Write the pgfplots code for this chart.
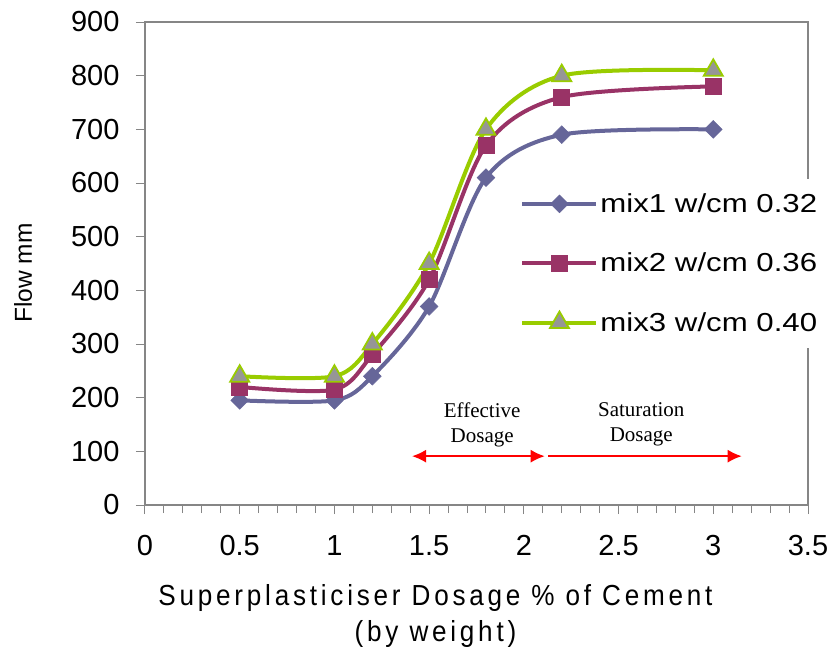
\documentclass[border=0pt]{standalone}
\usepackage{pgfplots}
\pgfplotsset{compat=1.18}
\usepackage{fontspec}
\setmainfont{Liberation Sans}
\newfontfamily\timesfont{Liberation Serif}
\usetikzlibrary{arrows.meta}
\definecolor{c1}{HTML}{666699}
\definecolor{c2}{HTML}{993366}
\definecolor{c3}{HTML}{99CC00}
\definecolor{tri}{HTML}{969696}
\definecolor{axgray}{HTML}{868686}
\begin{document}
\begin{tikzpicture}
\begin{axis}[
  scale only axis, width=663pt, height=483pt,
  xmin=0, xmax=3.5, ymin=0, ymax=900,
  xtick={0,0.5,1,1.5,2,2.5,3,3.5}, ytick={0,100,...,900},
  minor x tick num=4,
  tick align=outside, xtick pos=bottom, ytick pos=left,
  major tick length=9pt, minor tick length=8pt,
  axis line style={axgray, line width=1.6pt},
  every tick/.style={axgray, line width=1pt},
  tick label style={font=\fontsize{29}{32}\selectfont},
  /pgf/number format/assume math mode=true,
  xticklabel style={yshift=-18pt},
  yticklabel style={xshift=-13pt},
  xlabel={Superplasticiser Dosage \% of Cement\\(by weight)},
  xlabel style={align=center, font=\fontsize{29}{36}\selectfont\addfontfeatures{FakeStretch=0.9,LetterSpace=13}, yshift=-22pt, xshift=-41pt},
  ylabel={Flow mm},
  ylabel style={at={(axis description cs:-0.184,0.48)}, anchor=center, rotate=0,
    font=\fontsize{24.5}{28}\selectfont},
  legend style={at={(rel axis cs:0.56,0.676)}, anchor=north west, draw=none, fill=white,
    font=\fontsize{26}{29}\selectfont\addfontfeatures{FakeStretch=1.2}, row sep=35pt, inner xsep=4pt, inner ysep=13pt, cells={anchor=west}},
  legend image code/.code={\draw[mark repeat=2,mark phase=2] plot coordinates {(0pt,0pt)(37pt,0pt)(74pt,0pt)};},
  clip=false,
]
\addplot[c1, line width=4pt, smooth, mark=square*, mark size=6.3pt,
  mark options={solid, fill=c1, draw=c1, line width=0.5pt, rotate=45}]
  coordinates {(0.5,195) (1,195) (1.2,240) (1.5,370) (1.8,610) (2.2,690) (3,700)};
\addlegendentry{mix1 w/cm 0.32}
\addplot[c2, line width=4pt, smooth, mark=square*, mark size=8pt,
  mark options={solid, fill=c2, draw=c2, line width=0.5pt}]
  coordinates {(0.5,220) (1,215) (1.2,280) (1.5,420) (1.8,670) (2.2,760) (3,780)};
\addlegendentry{mix2 w/cm 0.36}
\addplot[c3, line width=4pt, smooth, mark=triangle*, mark size=11pt,
  mark options={solid, fill=tri, draw=c3, line width=1.8pt}]
  coordinates {(0.5,240) (1,240) (1.2,300) (1.5,450) (1.8,700) (2.2,800) (3,810)};
\addlegendentry{mix3 w/cm 0.40}
\draw[red, line width=1.5pt, {Latex[length=14pt,width=13pt]}-{Latex[length=14pt,width=13pt]}] (axis cs:1.41,91) -- (axis cs:2.11,91);
\draw[red, line width=1.5pt, -{Latex[length=14pt,width=13pt]}] (axis cs:2.13,91) -- (axis cs:3.15,91);
\node[font=\timesfont\fontsize{21}{25}\selectfont, align=center] at (axis cs:1.78,150) {Effective\\Dosage};
\node[font=\timesfont\fontsize{21}{25}\selectfont, align=center] at (axis cs:2.62,150) {Saturation\\Dosage};
\end{axis}
\pgfresetboundingbox
\path[use as bounding box] (current axis.south west) ++(-145pt,-146pt) rectangle ++(827pt,651pt);
\end{tikzpicture}
\end{document}
